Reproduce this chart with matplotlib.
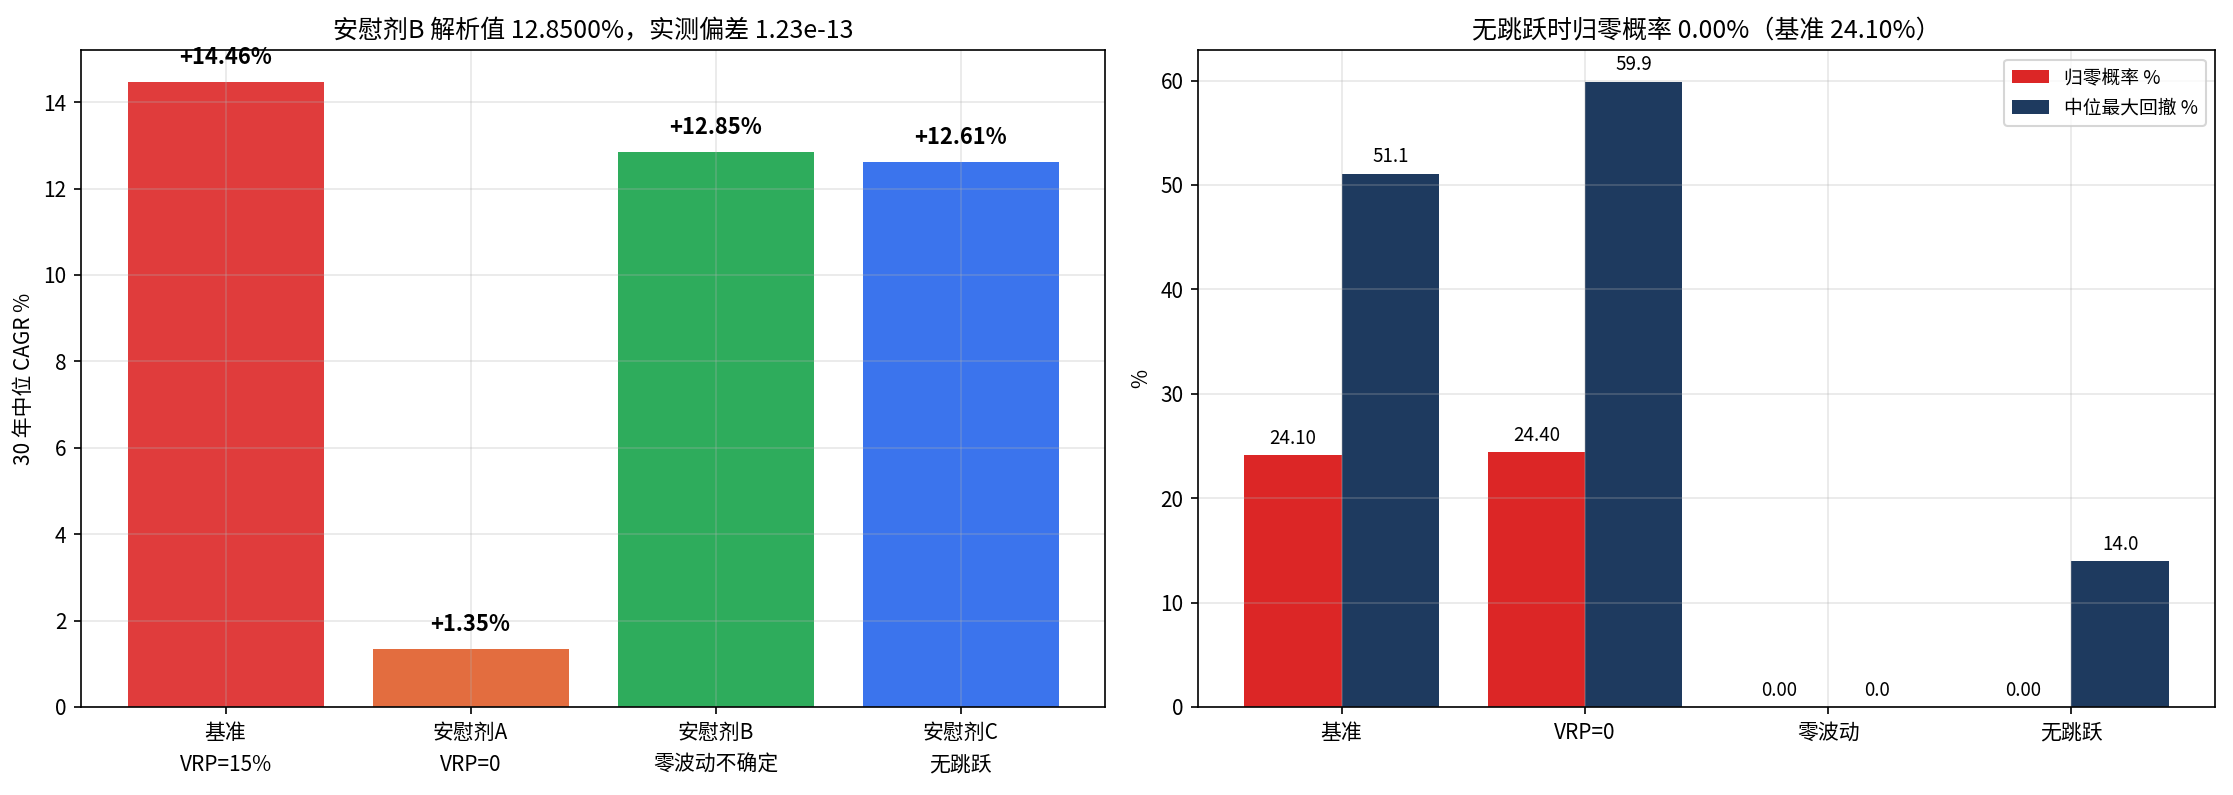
import numpy as np
import matplotlib
matplotlib.use("Agg")
import matplotlib.pyplot as plt

plt.rcParams['font.family'] = ['Noto Sans CJK SC', 'DejaVu Sans']
plt.rcParams['axes.unicode_minus'] = False

# left panel: 30y median CAGR
scen_labels = ["基准\nVRP=15%", "安慰剂A\nVRP=0", "安慰剂B\n零波动不确定", "安慰剂C\n无跳跃"]
cagr = [14.46, 1.35, 12.85, 12.61]
cagr_colors = ["#e03c3c", "#e36d3f", "#2eac5c", "#3b74ed"]

# right panel: ruin prob and median max drawdown
cats = ["基准", "VRP=0", "零波动", "无跳跃"]
ruin = [24.10, 24.40, 0.00, 0.00]
mdd = [51.1, 59.9, 0.0, 14.0]

fig = plt.figure(figsize=(14.893, 5.3), dpi=150)
ax1 = fig.add_axes([0.0363, 0.1107, 0.4584, 0.826])
ax2 = fig.add_axes([0.5363, 0.1107, 0.4552, 0.826])

x = np.arange(len(cagr))
ax1.bar(x, cagr, color=cagr_colors, width=0.8)
for i, v in enumerate(cagr):
    ax1.text(i, v + 0.3, f"+{v:.2f}%", ha="center", va="bottom",
             fontsize=10.5, fontweight="bold")
ax1.set_xticks(x)
ax1.set_xticklabels(scen_labels, fontsize=10, linespacing=1.6)
ax1.set_ylabel("30 年中位 CAGR %", fontsize=10)
ax1.set_ylim(0, 15.2)
ax1.set_title("安慰剂B 解析值 12.8500%，实测偏差 1.23e-13", fontsize=12)
ax1.grid(True, alpha=0.3)

xc = np.arange(len(cats))
w = 0.4
b1 = ax2.bar(xc - w / 2, ruin, width=w, color="#dc2626", label="归零概率 %")
b2 = ax2.bar(xc + w / 2, mdd, width=w, color="#1e3a5f", label="中位最大回撤 %")
ax2.bar_label(b1, fmt="%.2f", padding=3, fontsize=9)
ax2.bar_label(b2, fmt="%.1f", padding=3, fontsize=9)
ax2.set_xticks(xc)
ax2.set_xticklabels(cats, fontsize=10)
ax2.set_ylabel("%", fontsize=10)
ax2.set_ylim(0, 62.9)
ax2.set_title("无跳跃时归零概率 0.00%（基准 24.10%）", fontsize=12)
ax2.legend(loc="upper right", fontsize=9)
ax2.grid(True, alpha=0.3)

fig.savefig("out.png", dpi=150)
